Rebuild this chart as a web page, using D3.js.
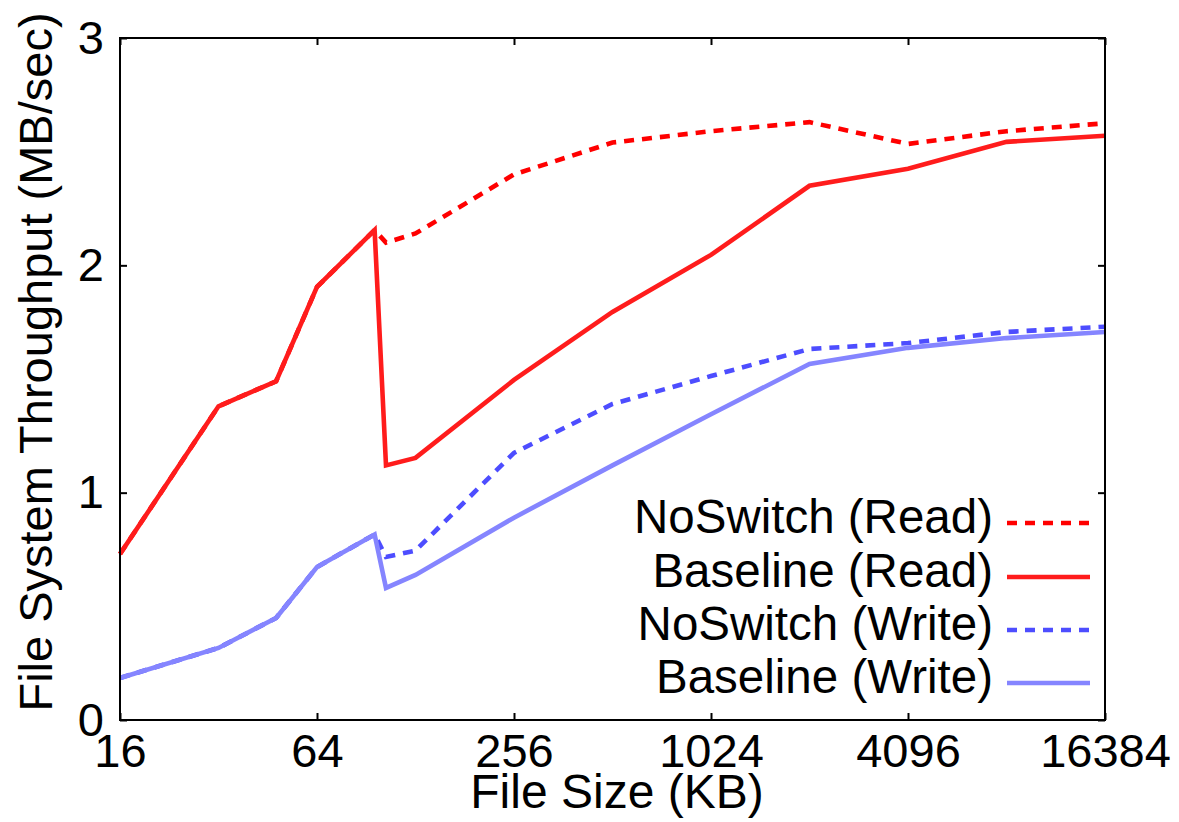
<!DOCTYPE html>
<html>
<head>
<meta charset="utf-8">
<script src="https://cdn.jsdelivr.net/npm/d3@7"></script>
<style>
  body { margin: 0; background: #fff; }
  text { font-family: "Liberation Sans", Arial, sans-serif; fill: #000; }
</style>
</head>
<body>
<div id="chart"></div>
<script>
// data (file size in KB, throughput in MB/sec)
const fileSizes = [16, 32, 48, 64, 96, 104, 128, 256, 512, 1024, 2048, 4096, 8192, 16384];
const noSwitchRead = [0.73, 1.38, 1.49, 1.905, 2.155, 2.10, 2.14, 2.40, 2.54, 2.59, 2.63, 2.534, 2.59, 2.625];
const baselineRead = [0.73, 1.38, 1.49, 1.905, 2.155, 1.12, 1.153, 1.496, 1.795, 2.046, 2.35, 2.425, 2.543, 2.57];
const noSwitchWrite = [0.185, 0.317, 0.449, 0.673, 0.816, 0.717, 0.745, 1.175, 1.39, 1.513, 1.632, 1.658, 1.707, 1.73];
const baselineWrite = [0.185, 0.317, 0.449, 0.673, 0.816, 0.581, 0.638, 0.89, 1.12, 1.345, 1.566, 1.637, 1.68, 1.707];

const xTicks = [16, 64, 256, 1024, 4096, 16384];
const yTicks = [0, 1, 2, 3];

const seriesNames = ["NoSwitch (Read)", "Baseline (Read)", "NoSwitch (Write)", "Baseline (Write)"];
const seriesValues = [noSwitchRead, baselineRead, noSwitchWrite, baselineWrite];
const seriesColors = ["#ff0000", "#ff1c1c", "#4d4dff", "#8585ff"];
const seriesDashed = [true, false, true, false];

const WIDTH = 1179;
const HEIGHT = 822;
const PLOT = { left: 120, right: 1105, top: 38, bottom: 720 };
const TICK = 7;
const TICK_FONT = 47;
const LEGEND_FONT = 47.5;
const TITLE_FONT = 48;

const svg = d3.select('#chart')
  .append('svg')
  .attr('width', WIDTH)
  .attr('height', HEIGHT);

svg.append('rect')
  .attr('width', WIDTH)
  .attr('height', HEIGHT)
  .attr('fill', '#fff');

// scales
const x = d3.scaleLog().base(2)
  .domain([16, 16384])
  .range([PLOT.left, PLOT.right]);

const y = d3.scaleLinear()
  .domain([0, 3])
  .range([PLOT.bottom, PLOT.top]);

// lines, drawn in legend order
const line = d3.line()
  .x((d, i) => x(fileSizes[i]))
  .y(d => y(d));

seriesValues.forEach((vals, k) => {
  svg.append('path')
    .datum(vals)
    .attr('d', line)
    .attr('fill', 'none')
    .attr('stroke', seriesColors[k])
    .attr('stroke-width', 4.6)
    .attr('stroke-linejoin', 'miter')
    .attr('stroke-dasharray', seriesDashed[k] ? '10,8' : null);
});

// axes: inward ticks on all four sides
const axisBottom = d3.axisBottom(x).tickValues(xTicks).tickSize(-TICK).tickFormat(d3.format('d')).tickPadding(14);
const axisTop = d3.axisTop(x).tickValues(xTicks).tickSize(-TICK).tickFormat('');
const axisLeft = d3.axisLeft(y).tickValues(yTicks).tickSize(-TICK).tickFormat(d3.format('d')).tickPadding(16);
const axisRight = d3.axisRight(y).tickValues(yTicks).tickSize(-TICK).tickFormat('');

function styleAxis(g) {
  g.select('.domain').remove();
  g.selectAll('line').attr('stroke', '#000').attr('stroke-width', 2);
  g.selectAll('text').attr('font-size', TICK_FONT).attr('fill', '#000');
}

svg.append('g')
  .attr('transform', `translate(0, ${PLOT.bottom})`)
  .call(axisBottom)
  .call(styleAxis)
  .selectAll('text').attr('dy', '0.71em');

svg.append('g')
  .attr('transform', `translate(0, ${PLOT.top})`)
  .call(axisTop)
  .call(styleAxis);

svg.append('g')
  .attr('transform', `translate(${PLOT.left}, 0)`)
  .call(axisLeft)
  .call(styleAxis);

svg.append('g')
  .attr('transform', `translate(${PLOT.right}, 0)`)
  .call(axisRight)
  .call(styleAxis);

// frame
svg.append('rect')
  .attr('x', PLOT.left)
  .attr('y', PLOT.top)
  .attr('width', PLOT.right - PLOT.left)
  .attr('height', PLOT.bottom - PLOT.top)
  .attr('fill', 'none')
  .attr('stroke', '#000')
  .attr('stroke-width', 2);

// axis titles
svg.append('text')
  .attr('x', 617)
  .attr('y', 808)
  .attr('text-anchor', 'middle')
  .attr('font-size', TITLE_FONT)
  .text('File Size (KB)');

svg.append('text')
  .attr('transform', `translate(52, 362) rotate(-90)`)
  .attr('text-anchor', 'middle')
  .attr('font-size', 47)
  .text('File System Throughput (MB/sec)');

// legend
const legendBaselines = [533, 587, 640, 693];
const legend = svg.append('g');

seriesNames.forEach((name, k) => {
  legend.append('text')
    .attr('x', 993)
    .attr('y', legendBaselines[k])
    .attr('text-anchor', 'end')
    .attr('font-size', LEGEND_FONT)
    .text(name);

  legend.append('line')
    .attr('x1', 1007)
    .attr('x2', 1090)
    .attr('y1', legendBaselines[k] - 10)
    .attr('y2', legendBaselines[k] - 10)
    .attr('stroke', seriesColors[k])
    .attr('stroke-width', 4.6)
    .attr('stroke-dasharray', seriesDashed[k] ? '10,8' : null);
});
</script>
</body>
</html>
